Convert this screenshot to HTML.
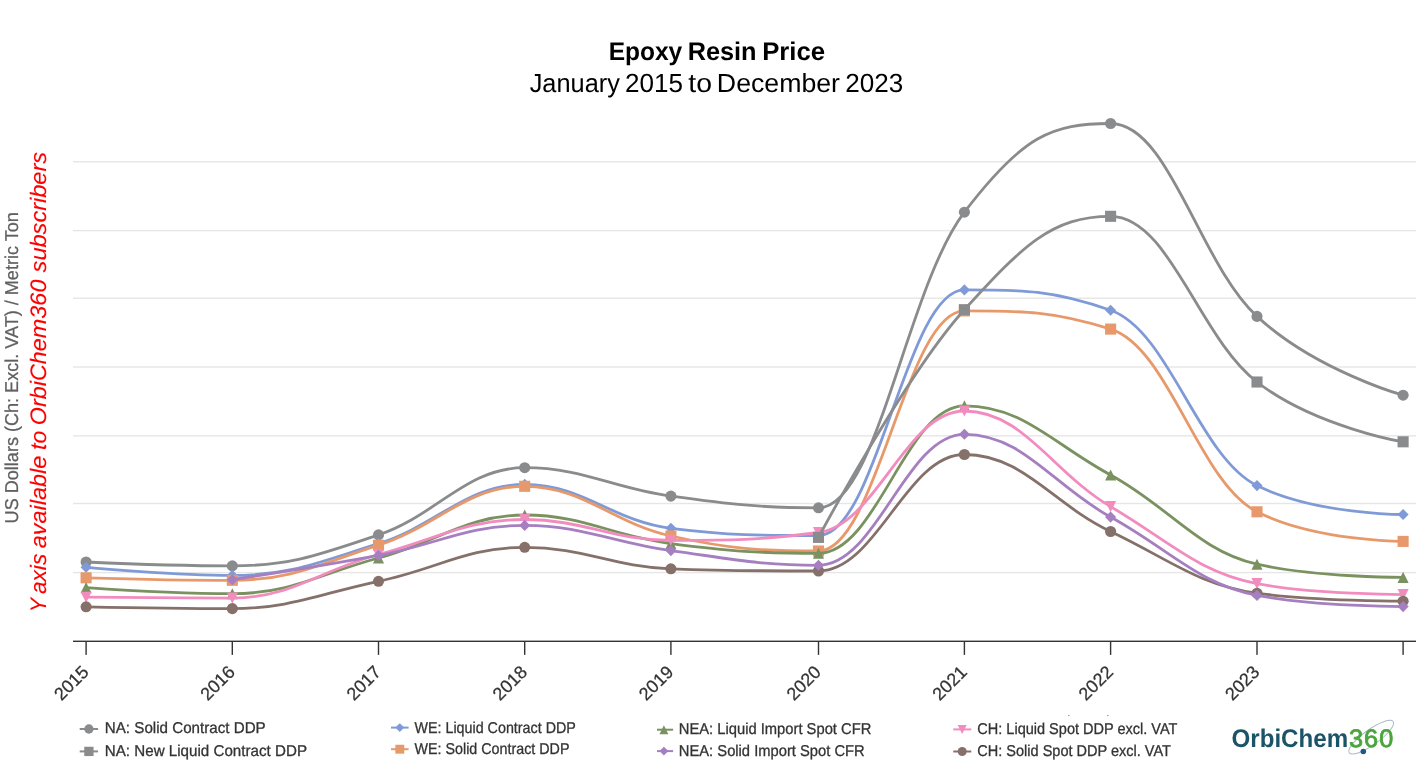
<!DOCTYPE html>
<html lang="en"><head><meta charset="utf-8"><title>Epoxy Resin Price</title>
<style>
html,body{margin:0;padding:0;background:#fff;}
body{width:1416px;height:771px;overflow:hidden;}
svg{display:block;}
text{font-family:"Liberation Sans",sans-serif;text-rendering:geometricPrecision;}
</style></head><body>
<svg width="1416" height="771" viewBox="0 0 1416 771">
<rect width="1416" height="771" fill="#ffffff"/>
<text y="60.4" font-size="25.5" font-weight="bold" fill="#000"><tspan x="608.64" textLength="73.59" lengthAdjust="spacingAndGlyphs">Epoxy</tspan> <tspan x="687.64" textLength="68.91" lengthAdjust="spacingAndGlyphs">Resin</tspan> <tspan x="762.16" textLength="62.99" lengthAdjust="spacingAndGlyphs">Price</tspan></text>
<text y="91.5" font-size="26.2" fill="#000"><tspan x="529.68" textLength="90.17" lengthAdjust="spacingAndGlyphs">January</tspan> <tspan x="624.94" textLength="58" lengthAdjust="spacingAndGlyphs">2015</tspan> <tspan x="688.38" textLength="23.7" lengthAdjust="spacingAndGlyphs">to</tspan> <tspan x="716.86" textLength="123.17" lengthAdjust="spacingAndGlyphs">December</tspan> <tspan x="845.3" textLength="58.01" lengthAdjust="spacingAndGlyphs">2023</tspan></text>
<text transform="translate(17.8 367.8) rotate(-90)" text-anchor="middle" font-size="18.6" textLength="311.2" lengthAdjust="spacingAndGlyphs" fill="#606060" stroke="#606060" stroke-width="0.25">US Dollars (Ch: Excl. VAT) / Metric Ton</text>
<text transform="translate(46.25 0) rotate(-90)" font-size="22.4" font-style="italic" fill="#ff0000" stroke="#ff0000" stroke-width="0.1"><tspan x="-612.3" textLength="13.8" lengthAdjust="spacingAndGlyphs">Y</tspan> <tspan x="-594" textLength="40.2" lengthAdjust="spacingAndGlyphs">axis</tspan> <tspan x="-548.2" textLength="92.5" lengthAdjust="spacingAndGlyphs">available</tspan> <tspan x="-449.9" textLength="19.2" lengthAdjust="spacingAndGlyphs">to</tspan> <tspan x="-425.3" textLength="145.7" lengthAdjust="spacingAndGlyphs">OrbiChem360</tspan> <tspan x="-272.4" textLength="120.5" lengthAdjust="spacingAndGlyphs">subscribers</tspan></text>
<g id="chart">
<rect x="73" y="161.1" width="1343" height="1.4" fill="#e6e6e6"/>
<rect x="73" y="229.9" width="1343" height="1.4" fill="#e6e6e6"/>
<rect x="73" y="297.5" width="1343" height="1.4" fill="#e6e6e6"/>
<rect x="73" y="366.3" width="1343" height="1.4" fill="#e6e6e6"/>
<rect x="73" y="435.15" width="1343" height="1.4" fill="#e6e6e6"/>
<rect x="73" y="502.8" width="1343" height="1.4" fill="#e6e6e6"/>
<rect x="73" y="571.9" width="1343" height="1.4" fill="#e6e6e6"/>
<rect x="73" y="640.6" width="1343" height="1.4" fill="#333333"/>
<rect x="85.4" y="641.3" width="1.4" height="13.6" fill="#333333"/>
<rect x="231.6" y="641.3" width="1.4" height="13.6" fill="#333333"/>
<rect x="377.8" y="641.3" width="1.4" height="13.6" fill="#333333"/>
<rect x="524" y="641.3" width="1.4" height="13.6" fill="#333333"/>
<rect x="670.2" y="641.3" width="1.4" height="13.6" fill="#333333"/>
<rect x="817.8" y="641.3" width="1.4" height="13.6" fill="#333333"/>
<rect x="963.7" y="641.3" width="1.4" height="13.6" fill="#333333"/>
<rect x="1109.9" y="641.3" width="1.4" height="13.6" fill="#333333"/>
<rect x="1256.3" y="641.3" width="1.4" height="13.6" fill="#333333"/>
<rect x="1402.4" y="641.3" width="1.4" height="13.6" fill="#333333"/>
<text transform="translate(89.8 673.1) rotate(-45)" text-anchor="end" font-size="18" fill="#333333" stroke="#333333" stroke-width="0.25">2015</text>
<text transform="translate(236 673.1) rotate(-45)" text-anchor="end" font-size="18" fill="#333333" stroke="#333333" stroke-width="0.25">2016</text>
<text transform="translate(382.2 673.1) rotate(-45)" text-anchor="end" font-size="18" fill="#333333" stroke="#333333" stroke-width="0.25">2017</text>
<text transform="translate(528.4 673.1) rotate(-45)" text-anchor="end" font-size="18" fill="#333333" stroke="#333333" stroke-width="0.25">2018</text>
<text transform="translate(674.6 673.1) rotate(-45)" text-anchor="end" font-size="18" fill="#333333" stroke="#333333" stroke-width="0.25">2019</text>
<text transform="translate(822.2 673.1) rotate(-45)" text-anchor="end" font-size="18" fill="#333333" stroke="#333333" stroke-width="0.25">2020</text>
<text transform="translate(968.1 673.1) rotate(-45)" text-anchor="end" font-size="18" fill="#333333" stroke="#333333" stroke-width="0.25">2021</text>
<text transform="translate(1114.3 673.1) rotate(-45)" text-anchor="end" font-size="18" fill="#333333" stroke="#333333" stroke-width="0.25">2022</text>
<text transform="translate(1260.7 673.1) rotate(-45)" text-anchor="end" font-size="18" fill="#333333" stroke="#333333" stroke-width="0.25">2023</text>
<g>
<path d="M86.1 562C86.1 562 173.82 565.9 232.3 565.9C290.78 565.9 320.02 554.54 378.5 534.9C436.98 515.26 466.22 467.7 524.7 467.7C583.18 467.7 612.42 488.12 670.9 496.1C729.94 504.16 759.46 507.8 818.5 507.8C876.86 507.8 906.04 288.98 964.4 212.2C1022.88 135.26 1052.12 123.5 1110.6 123.5C1169.16 123.5 1198.44 262 1257 316.4C1315.44 370.68 1403.1 395.2 1403.1 395.2" fill="none" stroke="#8a8b8d" stroke-width="2.8" stroke-linejoin="round" stroke-linecap="round"/>
<circle cx="86.1" cy="562" r="5.55" fill="#8a8b8d"/>
<circle cx="232.3" cy="565.9" r="5.55" fill="#8a8b8d"/>
<circle cx="378.5" cy="534.9" r="5.55" fill="#8a8b8d"/>
<circle cx="524.7" cy="467.7" r="5.55" fill="#8a8b8d"/>
<circle cx="670.9" cy="496.1" r="5.55" fill="#8a8b8d"/>
<circle cx="818.5" cy="507.8" r="5.55" fill="#8a8b8d"/>
<circle cx="964.4" cy="212.2" r="5.55" fill="#8a8b8d"/>
<circle cx="1110.6" cy="123.5" r="5.55" fill="#8a8b8d"/>
<circle cx="1257" cy="316.4" r="5.55" fill="#8a8b8d"/>
<circle cx="1403.1" cy="395.2" r="5.55" fill="#8a8b8d"/>
</g>
<g>
<path d="M86.1 567.3C86.1 567.3 173.82 575.4 232.3 575.4C290.78 575.4 320.02 561.8 378.5 543.6C436.98 525.4 466.22 484.4 524.7 484.4C583.18 484.4 612.42 521.1 670.9 528.3C729.94 535.5 759.46 535.5 818.5 535.5C876.86 535.5 906.04 289.9 964.4 289.9C1022.88 289.9 1052.12 289.9 1110.6 310.3C1169.16 330.7 1198.44 456.7 1257 485.6C1315.44 514.5 1403.1 514.5 1403.1 514.5" fill="none" stroke="#7f9ad6" stroke-width="2.8" stroke-linejoin="round" stroke-linecap="round"/>
<path d="M86.1 561.75L91.65 567.3L86.1 572.85L80.55 567.3Z" fill="#7f9ad6"/>
<path d="M232.3 569.85L237.85 575.4L232.3 580.95L226.75 575.4Z" fill="#7f9ad6"/>
<path d="M378.5 538.05L384.05 543.6L378.5 549.15L372.95 543.6Z" fill="#7f9ad6"/>
<path d="M524.7 478.85L530.25 484.4L524.7 489.95L519.15 484.4Z" fill="#7f9ad6"/>
<path d="M670.9 522.75L676.45 528.3L670.9 533.85L665.35 528.3Z" fill="#7f9ad6"/>
<path d="M818.5 529.95L824.05 535.5L818.5 541.05L812.95 535.5Z" fill="#7f9ad6"/>
<path d="M964.4 284.35L969.95 289.9L964.4 295.45L958.85 289.9Z" fill="#7f9ad6"/>
<path d="M1110.6 304.75L1116.15 310.3L1110.6 315.85L1105.05 310.3Z" fill="#7f9ad6"/>
<path d="M1257 480.05L1262.55 485.6L1257 491.15L1251.45 485.6Z" fill="#7f9ad6"/>
<path d="M1403.1 508.95L1408.65 514.5L1403.1 520.05L1397.55 514.5Z" fill="#7f9ad6"/>
</g>
<g>
<path d="M86.1 577.8C86.1 577.8 173.82 580.3 232.3 580.3C290.78 580.3 320.02 564 378.5 545.2C436.98 526.4 466.22 486.3 524.7 486.3C583.18 486.3 612.42 523.12 670.9 536C729.94 549 759.46 551 818.5 551C876.86 551 906.04 310.9 964.4 310.9C1022.88 310.9 1052.12 310.9 1110.6 329.1C1169.16 347.3 1198.44 482.2 1257 511.8C1315.44 541.4 1403.1 541.4 1403.1 541.4" fill="none" stroke="#e8996b" stroke-width="2.8" stroke-linejoin="round" stroke-linecap="round"/>
<rect x="80.55" y="572.25" width="11.1" height="11.1" fill="#e8996b"/>
<rect x="226.75" y="574.75" width="11.1" height="11.1" fill="#e8996b"/>
<rect x="372.95" y="539.65" width="11.1" height="11.1" fill="#e8996b"/>
<rect x="519.15" y="480.75" width="11.1" height="11.1" fill="#e8996b"/>
<rect x="665.35" y="530.45" width="11.1" height="11.1" fill="#e8996b"/>
<rect x="812.95" y="545.45" width="11.1" height="11.1" fill="#e8996b"/>
<rect x="958.85" y="305.35" width="11.1" height="11.1" fill="#e8996b"/>
<rect x="1105.05" y="323.55" width="11.1" height="11.1" fill="#e8996b"/>
<rect x="1251.45" y="506.25" width="11.1" height="11.1" fill="#e8996b"/>
<rect x="1397.55" y="535.85" width="11.1" height="11.1" fill="#e8996b"/>
</g>
<g>
<path d="M86.1 587.6C86.1 587.6 173.82 593.7 232.3 593.7C290.78 593.7 320.02 573.74 378.5 558C436.98 542.26 466.22 515 524.7 515C583.18 515 612.42 535.98 670.9 543.6C729.94 551.3 759.46 553.3 818.5 553.3C876.86 553.3 906.04 405.9 964.4 405.9C1022.88 405.9 1052.12 443.36 1110.6 475C1169.16 506.68 1198.44 551 1257 564.2C1315.44 577.4 1403.1 577.4 1403.1 577.4" fill="none" stroke="#7a9160" stroke-width="2.8" stroke-linejoin="round" stroke-linecap="round"/>
<path d="M86.1 582.05L91.65 593.15L80.55 593.15Z" fill="#7a9160"/>
<path d="M232.3 588.15L237.85 599.25L226.75 599.25Z" fill="#7a9160"/>
<path d="M378.5 552.45L384.05 563.55L372.95 563.55Z" fill="#7a9160"/>
<path d="M524.7 509.45L530.25 520.55L519.15 520.55Z" fill="#7a9160"/>
<path d="M670.9 538.05L676.45 549.15L665.35 549.15Z" fill="#7a9160"/>
<path d="M818.5 547.75L824.05 558.85L812.95 558.85Z" fill="#7a9160"/>
<path d="M964.4 400.35L969.95 411.45L958.85 411.45Z" fill="#7a9160"/>
<path d="M1110.6 469.45L1116.15 480.55L1105.05 480.55Z" fill="#7a9160"/>
<path d="M1257 558.65L1262.55 569.75L1251.45 569.75Z" fill="#7a9160"/>
<path d="M1403.1 571.85L1408.65 582.95L1397.55 582.95Z" fill="#7a9160"/>
</g>
<g>
<path d="M86.1 597.2C86.1 597.2 173.82 598.1 232.3 598.1C290.78 598.1 320.02 570.22 378.5 554.5C436.98 538.78 466.22 519.5 524.7 519.5C583.18 519.5 612.42 540.3 670.9 540.3C729.94 540.3 759.46 540.3 818.5 532.5C876.86 524.7 906.04 411 964.4 411C1022.88 411 1052.12 472.1 1110.6 506.6C1169.16 541.14 1198.44 572.6 1257 583.6C1315.44 594.6 1403.1 594.6 1403.1 594.6" fill="none" stroke="#f28cbf" stroke-width="2.8" stroke-linejoin="round" stroke-linecap="round"/>
<path d="M80.55 591.65L91.65 591.65L86.1 602.75Z" fill="#f28cbf"/>
<path d="M226.75 592.55L237.85 592.55L232.3 603.65Z" fill="#f28cbf"/>
<path d="M372.95 548.95L384.05 548.95L378.5 560.05Z" fill="#f28cbf"/>
<path d="M519.15 513.95L530.25 513.95L524.7 525.05Z" fill="#f28cbf"/>
<path d="M665.35 534.75L676.45 534.75L670.9 545.85Z" fill="#f28cbf"/>
<path d="M812.95 526.95L824.05 526.95L818.5 538.05Z" fill="#f28cbf"/>
<path d="M958.85 405.45L969.95 405.45L964.4 416.55Z" fill="#f28cbf"/>
<path d="M1105.05 501.05L1116.15 501.05L1110.6 512.15Z" fill="#f28cbf"/>
<path d="M1251.45 578.05L1262.55 578.05L1257 589.15Z" fill="#f28cbf"/>
<path d="M1397.55 589.05L1408.65 589.05L1403.1 600.15Z" fill="#f28cbf"/>
</g>
<g>
<path d="M86.1 606.8C86.1 606.8 173.82 608.6 232.3 608.6C290.78 608.6 320.02 593.56 378.5 581.3C436.98 569.04 466.22 547.3 524.7 547.3C583.18 547.3 612.42 566.6 670.9 568.8C729.94 571 759.46 571 818.5 571C876.86 571 906.04 454.5 964.4 454.5C1022.88 454.5 1052.12 503.78 1110.6 531.5C1169.16 559.26 1198.44 585.2 1257 593.2C1315.44 601.2 1403.1 601.2 1403.1 601.2" fill="none" stroke="#85706a" stroke-width="2.8" stroke-linejoin="round" stroke-linecap="round"/>
<circle cx="86.1" cy="606.8" r="5.55" fill="#85706a"/>
<circle cx="232.3" cy="608.6" r="5.55" fill="#85706a"/>
<circle cx="378.5" cy="581.3" r="5.55" fill="#85706a"/>
<circle cx="524.7" cy="547.3" r="5.55" fill="#85706a"/>
<circle cx="670.9" cy="568.8" r="5.55" fill="#85706a"/>
<circle cx="818.5" cy="571" r="5.55" fill="#85706a"/>
<circle cx="964.4" cy="454.5" r="5.55" fill="#85706a"/>
<circle cx="1110.6" cy="531.5" r="5.55" fill="#85706a"/>
<circle cx="1257" cy="593.2" r="5.55" fill="#85706a"/>
<circle cx="1403.1" cy="601.2" r="5.55" fill="#85706a"/>
</g>
<g>
<path d="M232.3 579.7C232.3 579.7 320.02 566.26 378.5 555.4C436.98 544.54 466.22 525.4 524.7 525.4C583.18 525.4 612.42 542.66 670.9 550.6C729.94 558.62 759.46 565.3 818.5 565.3C876.86 565.3 906.04 434.3 964.4 434.3C1022.88 434.3 1052.12 484.9 1110.6 517.1C1169.16 549.34 1198.44 584.2 1257 595.4C1315.44 606.6 1403.1 606.6 1403.1 606.6" fill="none" stroke="#a67fc0" stroke-width="2.8" stroke-linejoin="round" stroke-linecap="round"/>
<path d="M232.3 574.15L237.85 579.7L232.3 585.25L226.75 579.7Z" fill="#a67fc0"/>
<path d="M378.5 549.85L384.05 555.4L378.5 560.95L372.95 555.4Z" fill="#a67fc0"/>
<path d="M524.7 519.85L530.25 525.4L524.7 530.95L519.15 525.4Z" fill="#a67fc0"/>
<path d="M670.9 545.05L676.45 550.6L670.9 556.15L665.35 550.6Z" fill="#a67fc0"/>
<path d="M818.5 559.75L824.05 565.3L818.5 570.85L812.95 565.3Z" fill="#a67fc0"/>
<path d="M964.4 428.75L969.95 434.3L964.4 439.85L958.85 434.3Z" fill="#a67fc0"/>
<path d="M1110.6 511.55L1116.15 517.1L1110.6 522.65L1105.05 517.1Z" fill="#a67fc0"/>
<path d="M1257 589.85L1262.55 595.4L1257 600.95L1251.45 595.4Z" fill="#a67fc0"/>
<path d="M1403.1 601.05L1408.65 606.6L1403.1 612.15L1397.55 606.6Z" fill="#a67fc0"/>
</g>
<g>
<path d="M818.5 537.4C818.5 537.4 906.04 373.85 964.4 309.7C1022.88 245.41 1052.12 216.3 1110.6 216.3C1169.16 216.3 1198.44 336.85 1257 382C1315.44 427.05 1403.1 441.8 1403.1 441.8" fill="none" stroke="#8a8b8d" stroke-width="2.8" stroke-linejoin="round" stroke-linecap="round"/>
<rect x="812.95" y="531.85" width="11.1" height="11.1" fill="#8a8b8d"/>
<rect x="958.85" y="304.15" width="11.1" height="11.1" fill="#8a8b8d"/>
<rect x="1105.05" y="210.75" width="11.1" height="11.1" fill="#8a8b8d"/>
<rect x="1251.45" y="376.45" width="11.1" height="11.1" fill="#8a8b8d"/>
<rect x="1397.55" y="436.25" width="11.1" height="11.1" fill="#8a8b8d"/>
</g>
</g>
<g id="legend">
<path d="M79.7 729H98.1" stroke="#8a8b8d" stroke-width="2" fill="none"/>
<circle cx="88.9" cy="729" r="4.65" fill="#8a8b8d"/>
<text x="104.8" y="733.3" font-size="15.7" textLength="160.92" lengthAdjust="spacingAndGlyphs" fill="#333333" stroke="#333333" stroke-width="0.3">NA: Solid Contract DDP</text>
<path d="M79.7 751.4H98.1" stroke="#8a8b8d" stroke-width="2" fill="none"/>
<rect x="84.25" y="746.75" width="9.3" height="9.3" fill="#8a8b8d"/>
<text x="104.8" y="755.6" font-size="15.7" textLength="202.2" lengthAdjust="spacingAndGlyphs" fill="#333333" stroke="#333333" stroke-width="0.3">NA: New Liquid Contract DDP</text>
<path d="M391 727.6H408.6" stroke="#7f9ad6" stroke-width="2" fill="none"/>
<path d="M399.8 723.15L404.25 727.6L399.8 732.05L395.35 727.6Z" fill="#7f9ad6"/>
<text x="414.5" y="732.5" font-size="15.7" textLength="161.33" lengthAdjust="spacingAndGlyphs" fill="#333333" stroke="#333333" stroke-width="0.3">WE: Liquid Contract DDP</text>
<path d="M391 749.2H408.6" stroke="#e8996b" stroke-width="2" fill="none"/>
<rect x="395.35" y="744.75" width="8.9" height="8.9" fill="#e8996b"/>
<text x="414.5" y="754.1" font-size="15.7" textLength="154.97" lengthAdjust="spacingAndGlyphs" fill="#333333" stroke="#333333" stroke-width="0.3">WE: Solid Contract DDP</text>
<path d="M657 729.7H673.1" stroke="#7a9160" stroke-width="2" fill="none"/>
<path d="M663.9 725.25L668.35 734.15L659.45 734.15Z" fill="#7a9160"/>
<text x="678.8" y="734.4" font-size="15.7" textLength="192.52" lengthAdjust="spacingAndGlyphs" fill="#333333" stroke="#333333" stroke-width="0.3">NEA: Liquid Import Spot CFR</text>
<path d="M657 751.1H673.1" stroke="#a67fc0" stroke-width="2" fill="none"/>
<path d="M663.9 746.65L668.35 751.1L663.9 755.55L659.45 751.1Z" fill="#a67fc0"/>
<text x="678.8" y="755.7" font-size="15.7" textLength="185.95" lengthAdjust="spacingAndGlyphs" fill="#333333" stroke="#333333" stroke-width="0.3">NEA: Solid Import Spot CFR</text>
<path d="M953.3 729.4H971.3" stroke="#f28cbf" stroke-width="2" fill="none"/>
<path d="M957.7 724.9L966.7 724.9L962.2 733.9Z" fill="#f28cbf"/>
<text x="977.3" y="734.3" font-size="15.7" textLength="200.13" lengthAdjust="spacingAndGlyphs" fill="#333333" stroke="#333333" stroke-width="0.3">CH: Liquid Spot DDP excl. VAT</text>
<path d="M953.3 751.5H971.3" stroke="#85706a" stroke-width="2" fill="none"/>
<circle cx="962.2" cy="751.5" r="4.5" fill="#85706a"/>
<text x="977.3" y="755.9" font-size="15.7" textLength="193.67" lengthAdjust="spacingAndGlyphs" fill="#333333" stroke="#333333" stroke-width="0.3">CH: Solid Spot DDP excl. VAT</text>
</g>
<rect x="1068" y="715" width="1.5" height="1" fill="#999"/>
<rect x="1107" y="715" width="1.5" height="1" fill="#999"/>
<g id="logo">
<ellipse cx="1371.2" cy="737.2" rx="27" ry="7.6" transform="rotate(-35.5 1371.2 737.2)" fill="none" stroke="#a9bcc5" stroke-width="1"/>
<text y="747.1" font-size="25.6" font-weight="bold" fill="#1b5468"><tspan x="1231.5" textLength="116.6" lengthAdjust="spacingAndGlyphs">OrbiChem</tspan><tspan font-size="25.3" font-weight="normal" fill="#4aa53c" stroke="#4aa53c" stroke-width="0.8" stroke-linejoin="round" x="1348.94 1363.88 1379.26">360</tspan></text>
<circle cx="1363.3" cy="751.5" r="2.8" fill="#1b5a86"/>
</g>
</svg>
</body></html>
